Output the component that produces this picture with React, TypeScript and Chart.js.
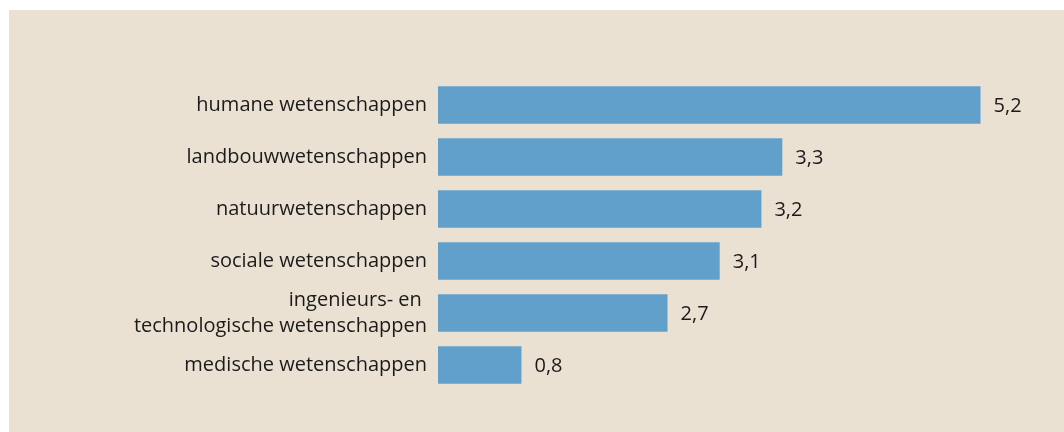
import React, { useEffect, useRef } from "react";
import { Chart, registerables } from "chart.js";

Chart.register(...registerables);

const categories: (string | string[])[] = [
  "humane wetenschappen",
  "landbouwwetenschappen",
  "natuurwetenschappen",
  "sociale wetenschappen",
  ["ingenieurs- en ", "technologische wetenschappen"],
  "medische wetenschappen",
];
// bar lengths as drawn in the picture
const values: number[] = [5.2, 3.3, 3.1, 2.7, 2.2, 0.8];
// value labels as printed next to the bars
const valueLabels: string[] = ["5,2", "3,3", "3,2", "3,1", "2,7", "0,8"];

const BG = "#EAE1D2";
const BAR = "#62A0CC";
const TEXT = "#1b1b1b";
const FONT = "'Open Sans', sans-serif";

const valueLabelPlugin = {
  id: "valueLabels",
  afterDatasetsDraw(chart: any) {
    const ctx = chart.ctx;
    const meta = chart.getDatasetMeta(0);
    ctx.save();
    ctx.font = `20px ${FONT}`;
    ctx.fillStyle = TEXT;
    ctx.textAlign = "left";
    ctx.textBaseline = "middle";
    meta.data.forEach((bar: any, i: number) => {
      ctx.fillText(valueLabels[i], bar.x + 13, bar.y + 1);
    });
    ctx.restore();
  },
};

export default function App() {
  const ref = useRef<HTMLCanvasElement | null>(null);
  useEffect(() => {
    if (!ref.current) return;
    const chart = new Chart(ref.current, {
      type: "bar",
      data: {
        labels: categories,
        datasets: [
          {
            data: values,
            backgroundColor: BAR,
            borderWidth: 0,
            categoryPercentage: 1,
            barPercentage: 0.72,
          },
        ],
      },
      options: {
        indexAxis: "y",
        animation: false,
        responsive: false,
        maintainAspectRatio: false,
        layout: { padding: { left: 0, right: 0, top: 69, bottom: 41 } },
        plugins: {
          legend: { display: false },
          tooltip: { enabled: false },
        },
        scales: {
          x: {
            display: false,
            min: 0,
            max: 6,
          },
          y: {
            grid: { display: false, drawTicks: false },
            border: { display: false },
            ticks: {
              autoSkip: false,
              padding: 11,
              color: TEXT,
              font: { family: FONT, size: 20, lineHeight: 1.3 },
            },
            afterFit: (scale: any) => {
              scale.width = 429;
            },
          },
        },
      },
      plugins: [valueLabelPlugin],
    });
    return () => chart.destroy();
  }, []);

  return (
    <div
      style={{
        position: "absolute",
        left: 9,
        top: 10,
        width: 1055,
        height: 422,
        background: BG,
      }}
    >
      <canvas ref={ref} width={1055} height={422} style={{ display: "block" }} />
    </div>
  );
}
